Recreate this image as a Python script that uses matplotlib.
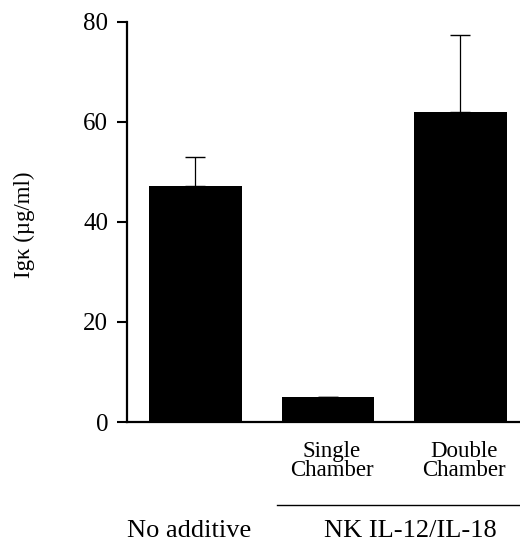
import numpy as np
import matplotlib
matplotlib.use("Agg")
import matplotlib.pyplot as plt

plt.rcParams["font.family"] = ["Liberation Serif", "DejaVu Serif"]

# data
groups = ["No additive", "Single\nChamber", "Double\nChamber"]
igk = [47.2, 5.0, 62.0]
err_up = [5.8, 0.0, 15.4]
yticks = [0, 20, 40, 60, 80]

fig = plt.figure(figsize=(5.2, 5.42), dpi=100)
ax = fig.add_axes([0.244, 0.2214, 0.756, 0.7386])

x = np.arange(len(igk))
ax.bar(x, igk, width=0.7, color="black",
       yerr=[np.zeros(len(igk)), err_up],
       error_kw=dict(ecolor="black", elinewidth=0.9, capsize=7, capthick=1.0))

ax.set_xlim(-0.517, 2.45)
ax.set_ylim(0, 80)
ax.set_yticks(yticks)
ax.set_xticks([])
ax.tick_params(axis="y", direction="out", length=7.5, width=1.5, labelsize=18, pad=6)

for s in ["top", "right"]:
    ax.spines[s].set_visible(False)
ax.spines["left"].set_linewidth(1.6)
ax.spines["bottom"].set_linewidth(1.6)

ax.set_ylabel("Igκ (µg/ml)", fontsize=16.5)
ax.yaxis.set_label_coords(-0.26, 0.492)
ax.yaxis.label.set_va("center")

# category labels under bars
trans = ax.get_xaxis_transform()
for xi, lab in zip(x[1:], groups[1:]):
    ax.text(xi + 0.03, -0.0975, lab, transform=trans, ha="center", va="center",
            fontsize=16.5, linespacing=0.92)

# group bracket line
ax.plot([0.615, 2.45], [-0.207, -0.207], transform=trans, color="black",
        lw=1.0, clip_on=False)

ax.text(-0.05, -0.272, groups[0], transform=trans, ha="center", va="center", fontsize=19)
ax.text(1.62, -0.272, "NK IL-12/IL-18", transform=trans, ha="center", va="center", fontsize=19)

fig.savefig("out.png", dpi=100)
